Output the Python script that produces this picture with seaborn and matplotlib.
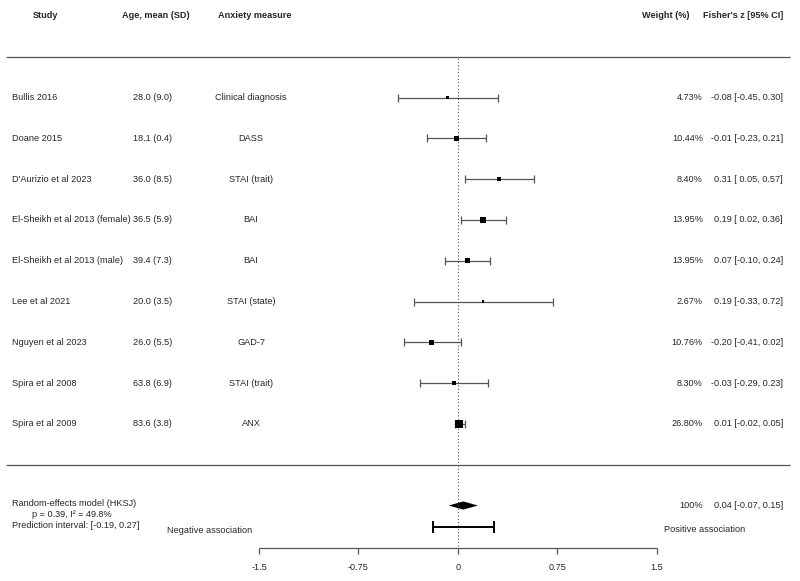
import matplotlib.pyplot as plt
import numpy as np
import pandas as pd
import seaborn as sns

# study data
studies = ['Bullis 2016', 'Doane 2015', "D'Aurizio et al 2023",
           'El-Sheikh et al 2013 (female)', 'El-Sheikh et al 2013 (male)',
           'Lee et al 2021', 'Nguyen et al 2023', 'Spira et al 2008', 'Spira et al 2009']
ages = ['28.0 (9.0)', '18.1 (0.4)', '36.0 (8.5)', '36.5 (5.9)', '39.4 (7.3)',
        '20.0 (3.5)', '26.0 (5.5)', '63.8 (6.9)', '83.6 (3.8)']
measures = ['Clinical diagnosis', 'DASS', 'STAI (trait)', 'BAI', 'BAI',
            'STAI (state)', 'GAD-7', 'STAI (trait)', 'ANX']
weights = [4.73, 10.44, 8.40, 13.95, 13.95, 2.67, 10.76, 8.30, 26.80]
est = [-0.08, -0.01, 0.31, 0.19, 0.07, 0.19, -0.20, -0.03, 0.01]
lower = [-0.45, -0.23, 0.05, 0.02, -0.10, -0.33, -0.41, -0.29, -0.02]
upper = [0.30, 0.21, 0.57, 0.36, 0.24, 0.72, 0.02, 0.23, 0.05]

# pooled estimate and prediction interval
pooled = [0.04, -0.07, 0.15]
pred_int = [-0.19, 0.27]
xticks = [-1.5, -0.75, 0, 0.75, 1.5]

df = pd.DataFrame({'study': studies, 'age': ages, 'measure': measures,
                   'weight': weights, 'est': est, 'lo': lower, 'hi': upper})
df['row'] = np.arange(len(df), 0, -1)

sns.set_style('white')
plt.rcParams['font.family'] = ['Liberation Sans', 'DejaVu Sans']

fig = plt.figure(figsize=(8, 5.81), dpi=100)
ax = fig.add_axes([0, 0, 1, 1])
ax.set_xlim(-3.452, 2.578)
ax.set_ylim(-2.85, 11.39)
ax.axis('off')

fs = 6.6
grey = '#555555'

# header
ax.text(-3.11, 11.0, 'Study', ha='center', va='center', fontsize=fs, fontweight='bold')
ax.text(-2.28, 11.0, 'Age, mean (SD)', ha='center', va='center', fontsize=fs, fontweight='bold')
ax.text(-1.81, 11.0, 'Anxiety measure', ha='left', va='center', fontsize=fs, fontweight='bold')
ax.text(1.748, 11.0, 'Weight (%)', ha='right', va='center', fontsize=fs, fontweight='bold')
ax.text(2.449, 11.0, "Fisher's z [95% CI]", ha='right', va='center', fontsize=fs, fontweight='bold')

# separator lines
ax.hlines([10, 0], -3.41, 2.50, color=grey, lw=0.9)
ax.vlines(0, -2, 10, color=grey, lw=0.8, linestyles=(0, (1, 2)))

# study CIs
ax.errorbar(df['est'], df['row'],
            xerr=[df['est'] - df['lo'], df['hi'] - df['est']],
            fmt='none', ecolor=grey, elinewidth=0.9, capsize=3, capthick=0.9)
sns.scatterplot(data=df, x='est', y='row', size='weight', sizes=(3, 30),
                marker='s', color='black', edgecolor='none', legend=False, ax=ax, zorder=3)

# row texts
for _, r in df.iterrows():
    y = r['row']
    ax.text(-3.36, y, r['study'], ha='left', va='center', fontsize=fs)
    ax.text(-2.30, y, r['age'], ha='center', va='center', fontsize=fs)
    ax.text(-1.56, y, r['measure'], ha='center', va='center', fontsize=fs)
    ax.text(1.846, y, f"{r['weight']:.2f}%", ha='right', va='center', fontsize=fs)
    ax.text(2.449, y, f"{r['est']:.2f} [{r['lo']:5.2f}, {r['hi']:.2f}]",
            ha='right', va='center', fontsize=fs)

# pooled diamond
m, lo, hi = pooled
ax.fill([lo, m, hi, m], [-1, -0.9, -1, -1.1], color='black', lw=0)
ax.text(-3.36, -0.94, 'Random-effects model (HKSJ)', ha='left', va='center', fontsize=fs)
ax.text(-2.91, -1.21, 'p = 0.39, I² = 49.8%', ha='center', va='center', fontsize=fs)
ax.text(-3.36, -1.5, f'Prediction interval: [{pred_int[0]:.2f}, {pred_int[1]:.2f}]',
        ha='left', va='center', fontsize=fs)
ax.text(1.846, -1.0, '100%', ha='right', va='center', fontsize=fs)
ax.text(2.449, -1.0, f'{m:.2f} [{lo:.2f}, {hi:.2f}]', ha='right', va='center', fontsize=fs)

# prediction interval
ax.errorbar([(pred_int[0] + pred_int[1]) / 2], [-1.52],
            xerr=[[(pred_int[1] - pred_int[0]) / 2]], fmt='none',
            ecolor='black', elinewidth=1.4, capsize=4, capthick=1.4)

ax.text(-1.55, -1.62, 'Negative association', ha='right', va='center', fontsize=fs)
ax.text(1.55, -1.58, 'Positive association', ha='left', va='center', fontsize=fs)

# x axis drawn by hand
ax.hlines(-2.04, xticks[0], xticks[-1], color=grey, lw=0.9)
ax.vlines(xticks, -2.04, -2.19, color=grey, lw=0.9)
for t in xticks:
    ax.text(t, -2.53, f'{t:g}', ha='center', va='center', fontsize=fs)

fig.savefig('out.png', dpi=100)
